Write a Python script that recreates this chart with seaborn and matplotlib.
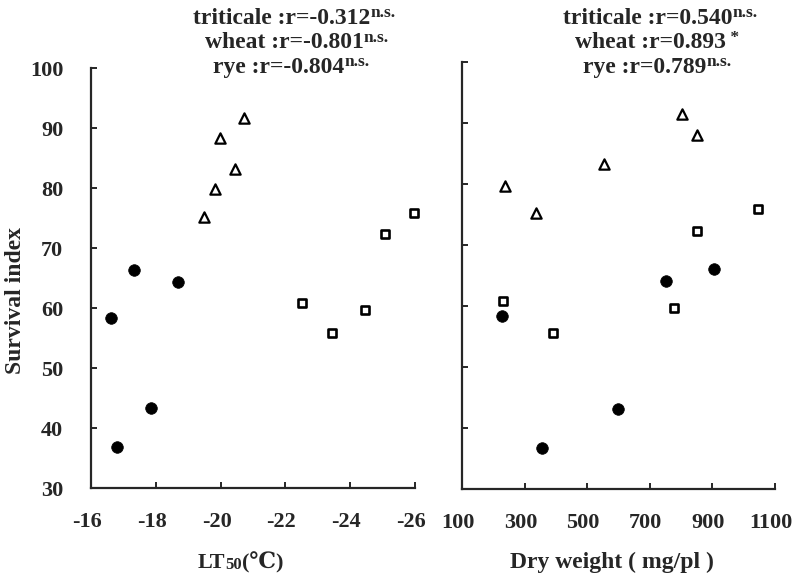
import matplotlib
matplotlib.use("Agg")
import matplotlib.pyplot as plt
import matplotlib.transforms as mtrans
import seaborn as sns

# LT50 panel (x = LT50 in degrees C)
lt_triticale_x = [-16.62, -16.80, -17.33, -17.85, -18.69]
lt_triticale_y = [58.4, 36.9, 66.3, 43.4, 64.3]
lt_wheat_x = [-20.72, -19.98, -20.43, -19.82, -19.48]
lt_wheat_y = [91.6, 88.4, 83.2, 79.8, 75.2]
lt_rye_x = [-22.51, -23.43, -24.46, -25.08, -25.98]
lt_rye_y = [60.8, 55.9, 59.7, 72.3, 75.8]

# dry weight panel (mg/pl)
dw_triticale_x = [229, 357, 597, 752, 905]
dw_triticale_y = [58.4, 36.7, 43.1, 64.1, 66.1]
dw_wheat_x = [237, 336, 554, 802, 850]
dw_wheat_y = [79.7, 75.2, 83.3, 91.4, 88.0]
dw_rye_x = [230, 392, 777, 852, 1047]
dw_rye_y = [60.8, 55.6, 59.6, 72.3, 75.9]

lt_ticks = [-16, -18, -20, -22, -24, -26]
dw_ticks = [100, 300, 500, 700, 900, 1100]
y_ticks = [30, 40, 50, 60, 70, 80, 90, 100]

lt_notes = [("triticale :r=-0.312", "n.s."),
            ("wheat :r=-0.801", "n.s."),
            ("rye :r=-0.804", "n.s.")]
dw_notes = [("triticale :r=0.540", "n.s."),
            ("wheat :r=0.893", " *"),
            ("rye :r=0.789", "n.s.")]

sns.set_style("ticks")
serif = ["Liberation Serif", "DejaVu Serif", "DejaVu Sans"]
plt.rcParams["font.family"] = serif
plt.rcParams["font.weight"] = "bold"
plt.rcParams["axes.unicode_minus"] = False

W, H = 795, 579
fig = plt.figure(figsize=(W / 100, H / 100), dpi=100)
ax1 = fig.add_axes([91 / W, 1 - 488 / H, 324 / W, 420 / H])
ax2 = fig.add_axes([462 / W, 1 - 489 / H, 313 / W, 427 / H])


def draw(ax, tx, ty, wx, wy, rx, ry):
    sns.scatterplot(x=tx, y=ty, ax=ax, marker="o", s=70, color="black",
                    edgecolor="black", linewidth=0.5, clip_on=False)
    sns.scatterplot(x=wx, y=wy, ax=ax, marker="^", s=55, color="white",
                    edgecolor="black", linewidth=1.6, clip_on=False)
    sns.scatterplot(x=rx, y=ry, ax=ax, marker="s", s=38, color="white",
                    edgecolor="black", linewidth=1.9, clip_on=False)
    sns.despine(ax=ax)
    for sp in ["left", "bottom"]:
        ax.spines[sp].set_linewidth(1.6)
    ax.tick_params(direction="in", length=4.5, width=1.4, labelsize=16)
    ax.set_ylim(30, 100)
    ax.set_yticks(y_ticks)
    ax.set_xlabel("")
    ax.set_ylabel("")


draw(ax1, lt_triticale_x, lt_triticale_y, lt_wheat_x, lt_wheat_y, lt_rye_x, lt_rye_y)
ax1.set_xlim(-16, -26)
ax1.set_xticks(lt_ticks)
ax1.set_xticklabels([str(t) for t in lt_ticks])
ax1.tick_params(axis="x", pad=17)
ax1.tick_params(axis="y", pad=20)

draw(ax2, dw_triticale_x, dw_triticale_y, dw_wheat_x, dw_wheat_y, dw_rye_x, dw_rye_y)
ax2.set_xlim(100, 1100)
ax2.set_xticks(dw_ticks)
ax2.set_xticklabels([str(t) for t in dw_ticks])
ax2.tick_params(axis="x", pad=17)
ax2.tick_params(axis="y", labelleft=False)

# tick labels sit a little left of their ticks in the original
shift = mtrans.ScaledTranslation(-4 / 100, 0, fig.dpi_scale_trans)
for ax in (ax1, ax2):
    for lab in ax.get_xticklabels():
        lab.set_transform(lab.get_transform() + shift)


def note(ax, x, y, main, sup):
    t = fig.text(x / W, 1 - y / H, main, ha="left", va="baseline",
                 fontsize=17, fontweight="bold")
    ax.annotate(sup, xy=(1, 0.38), xycoords=t, ha="left", va="bottom",
                fontsize=12.5, fontweight="bold")


for i, (main, sup) in enumerate(lt_notes):
    note(ax1, [193, 205, 213][i], 24 + 24.5 * i, main, sup)
for i, (main, sup) in enumerate(dw_notes):
    note(ax2, [563, 575, 583][i], 24 + 24.5 * i, main, sup)

fig.text(16 / W, 1 - 301 / H, "Survival index", rotation=90, ha="center",
         va="center", fontsize=17, fontweight="bold")

t1 = fig.text(198 / W, 1 - 568 / H, "LT", fontsize=16, fontweight="bold",
              ha="left", va="baseline")
t2 = ax1.annotate("50", xy=(1, 0), xycoords=t1, ha="left", va="bottom",
                  fontsize=12, fontweight="bold")
ax1.annotate("(℃)", xy=(1, 0), xycoords=t2, ha="left", va="bottom",
             fontsize=16, fontweight="bold", family=serif)

fig.text(612 / W, 1 - 568 / H, "Dry weight ( mg/pl )", ha="center",
         va="baseline", fontsize=17, fontweight="bold")

fig.savefig("out.png", dpi=100)
